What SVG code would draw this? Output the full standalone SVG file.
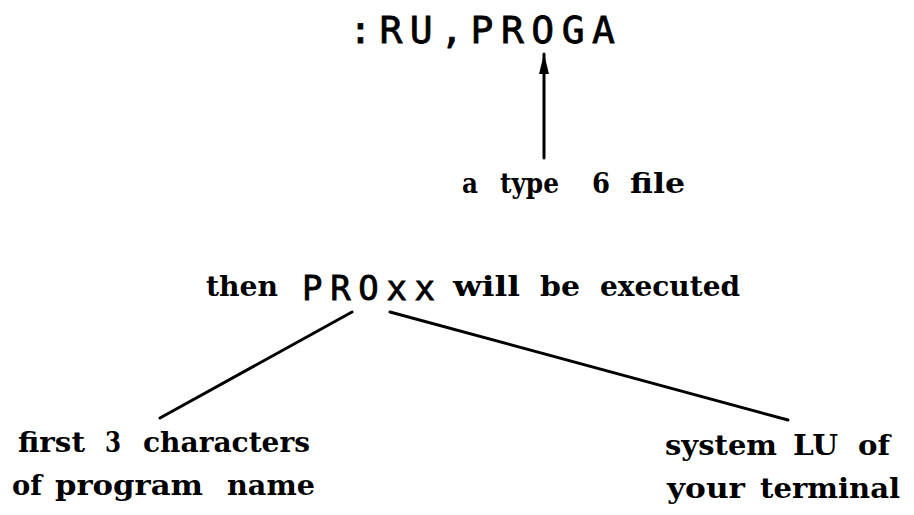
<svg xmlns="http://www.w3.org/2000/svg" width="914" height="515" viewBox="0 0 914 515">
<defs>
<style>
.mono{font-family:"DejaVu Sans Mono","Liberation Mono",monospace;fill:#000;stroke:#000;stroke-width:0.8}
.serif{font-family:"DejaVu Serif","Liberation Serif",serif;font-weight:bold;font-size:28px;fill:#000}
.conn{stroke:#000;stroke-width:3;fill:none;stroke-linecap:round}
</style>
<marker id="arr" markerUnits="userSpaceOnUse" markerWidth="22" markerHeight="12" refX="20" refY="6" orient="auto">
<path d="M0,1 L20,6 L0,11 Z" fill="#000"/>
</marker>
</defs>
<rect width="914" height="515" fill="#fff"/>
<g id="command">
<text class="mono" x="349" y="43" font-size="38" textLength="266" lengthAdjust="spacing">:RU,PROGA</text>
</g>
<g id="type6">
<text class="serif" x="462" y="193" textLength="16" lengthAdjust="spacingAndGlyphs">a</text>
<text class="serif" x="500" y="193" textLength="59" lengthAdjust="spacingAndGlyphs">type</text>
<text class="serif" x="592" y="193" textLength="18" lengthAdjust="spacingAndGlyphs">6</text>
<text class="serif" x="630" y="193" textLength="55" lengthAdjust="spacingAndGlyphs">file</text>
</g>
<g id="executed">
<text class="serif" x="206" y="296" textLength="72" lengthAdjust="spacingAndGlyphs">then</text>
<text class="mono" x="302" y="300" font-size="34" textLength="133" lengthAdjust="spacing">PROxx</text>
<text class="serif" x="453" y="296" textLength="67" lengthAdjust="spacingAndGlyphs">will</text>
<text class="serif" x="540" y="296" textLength="40" lengthAdjust="spacingAndGlyphs">be</text>
<text class="serif" x="600" y="296">executed</text>
</g>
<g id="first3">
<text class="serif" x="18" y="452" textLength="67" lengthAdjust="spacingAndGlyphs">first</text>
<text class="serif" x="105" y="452" textLength="16" lengthAdjust="spacingAndGlyphs">3</text>
<text class="serif" x="143" y="452" textLength="167" lengthAdjust="spacingAndGlyphs">characters</text>
<text class="serif" x="12" y="495" textLength="30" lengthAdjust="spacingAndGlyphs">of</text>
<text class="serif" x="55" y="495" textLength="148" lengthAdjust="spacingAndGlyphs">program</text>
<text class="serif" x="227" y="495" textLength="88" lengthAdjust="spacingAndGlyphs">name</text>
</g>
<g id="systemlu">
<text class="serif" x="665" y="455" textLength="112" lengthAdjust="spacingAndGlyphs">system</text>
<text class="serif" x="793" y="455" textLength="45" lengthAdjust="spacingAndGlyphs">LU</text>
<text class="serif" x="858" y="455" textLength="32" lengthAdjust="spacingAndGlyphs">of</text>
<text class="serif" x="667" y="498" textLength="78" lengthAdjust="spacingAndGlyphs">your</text>
<text class="serif" x="760" y="498" textLength="140" lengthAdjust="spacingAndGlyphs">terminal</text>
</g>
<g id="connectors">
<line class="conn" x1="544" y1="158" x2="544" y2="54" marker-end="url(#arr)"/>
<line class="conn" x1="352" y1="312" x2="160" y2="418"/>
<line class="conn" x1="390" y1="312" x2="788" y2="420"/>
</g>
</svg>
